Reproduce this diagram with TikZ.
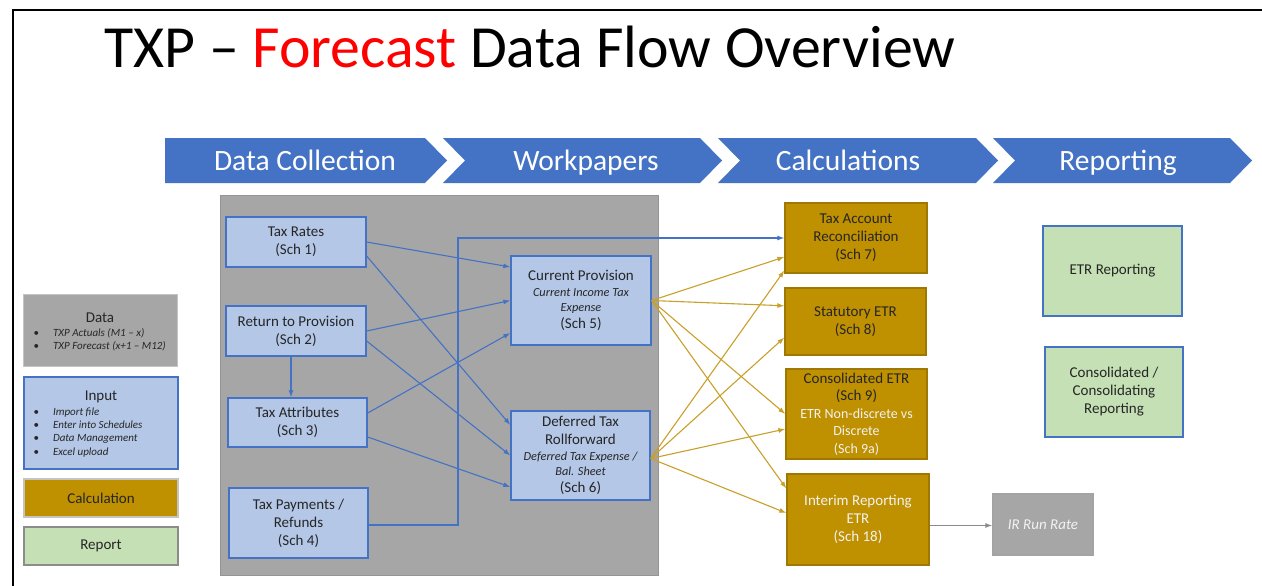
\documentclass[tikz,border=0pt]{standalone}
\usepackage{fontspec}
\setmainfont{Carlito}
\usetikzlibrary{arrows.meta,positioning,calc}

\definecolor{chevblue}{HTML}{4472C4}
\definecolor{inblue}{HTML}{B4C7E7}
\definecolor{inedge}{HTML}{4472C4}
\definecolor{calcgold}{HTML}{BF9000}
\definecolor{calcedge}{HTML}{9E7800}
\definecolor{feedgold}{HTML}{C9A02A}
\definecolor{repgreen}{HTML}{C5E0B4}
\definecolor{panelgray}{HTML}{A6A6A6}
\definecolor{paneledge}{HTML}{949494}
\definecolor{legedge}{HTML}{C4C4C4}
\definecolor{txt}{HTML}{262626}
\definecolor{paletxt}{HTML}{F2F2F2}
\definecolor{rungray}{HTML}{8C8C8C}

\newcommand{\titletxt}{\fontsize{59.8}{64}\selectfont}
\newcommand{\phasetxt}{\fontsize{29.5}{32}\selectfont}
\newcommand{\boxtxt}{\fontsize{15}{18}\selectfont}
\newcommand{\subtxt}{\fontsize{12.3}{15}\selectfont\itshape}
\newcommand{\itemtxt}{\fontsize{11}{13.3}\selectfont}
\newcommand{\pale}[1]{{\color{paletxt}\fontsize{14}{17}\selectfont #1}}

\begin{document}
\begin{tikzpicture}[x=1pt,y=-1pt,>={Latex[length=7pt,width=5pt]},line width=1.1pt,
  inbox/.style={draw=inedge,fill=inblue,line width=1.3pt,align=center,inner sep=0pt,font=\boxtxt,text=txt},
  calcbox/.style={draw=calcedge,fill=calcgold,line width=1.3pt,align=center,inner sep=0pt,font=\boxtxt,text=txt},
  repbox/.style={draw=inedge,fill=repgreen,line width=1.3pt,align=center,inner sep=0pt,font=\boxtxt,text=txt},
  phase/.style={anchor=base,text=white,font=\phasetxt,inner sep=0pt},
  flow/.style={->,draw=chevblue},
  feed/.style={->,draw=feedgold}]
\useasboundingbox (0,0) rectangle (1262,586);
\fill[white] (0,0) rectangle (1262,586);
% slide frame
\draw[line width=2pt] (13,586) -- (13,10) -- (1262,10);
\node[anchor=base west,font=\titletxt,inner sep=0pt] (title) at (104,67) {TXP – \textcolor{red}{Forecast} Data Flow Overview};

% phase chevrons
\fill[chevblue] (165,138) -- (425,138) -- (447,160.5) -- (425,183) -- (165,183) -- cycle;
\fill[chevblue] (443,138) -- (700,138) -- (722,160.5) -- (700,183) -- (443,183) -- (465,160.5) -- cycle;
\fill[chevblue] (718,138) -- (976,138) -- (998,160.5) -- (976,183) -- (718,183) -- (740,160.5) -- cycle;
\fill[chevblue] (993,138) -- (1230,138) -- (1252,160.5) -- (1230,183) -- (993,183) -- (1015,160.5) -- cycle;
\node[phase] (collect) at (305,170) {Data Collection};
\node[phase] (workp) at (586,170) {Workpapers};
\node[phase] (calcs) at (848,170) {Calculations};
\node[phase] (report) at (1118,170) {Reporting};

% legend
\node[draw=legedge,fill=panelgray,line width=1pt,minimum width=154pt,minimum height=72pt] (legdata) at (100,330) {};
\node[font=\boxtxt,text=txt,inner sep=0pt] (datatitle) at (100,317.5) {Data};
\node[anchor=west,align=left,font=\itemtxt,text=txt,inner sep=0pt] (datalist) at (33,339.5)
  {\textbullet\hspace{14pt}\textit{TXP Actuals (M1 – x)}\\\textbullet\hspace{14pt}\textit{TXP Forecast (x+1 – M12)}};
\node[draw=inedge,fill=inblue,line width=1.3pt,minimum width=154pt,minimum height=92pt] (leginput) at (101,423) {};
\node[font=\boxtxt,text=txt,inner sep=0pt] (inputtitle) at (101,397) {Input};
\node[anchor=west,align=left,font=\itemtxt,text=txt,inner sep=0pt] (inputlist) at (33,432.3)
  {\textbullet\hspace{14pt}\textit{Import file}\\\textbullet\hspace{14pt}\textit{Enter into Schedules}\\
   \textbullet\hspace{14pt}\textit{Data Management}\\\textbullet\hspace{14pt}\textit{Excel upload}};
\node[calcbox,draw=legedge,minimum width=154pt,minimum height=38pt] (legcalc) at (101,498) {Calculation};
\node[repbox,draw=rungray,minimum width=154pt,minimum height=38pt] (legrep) at (101,546) {Report};

% workpaper panel
\filldraw[fill=panelgray,draw=paneledge,line width=1pt] (220,195) rectangle (658,575);
\node[inbox,minimum width=140pt,minimum height=50pt] (rates) at (296,242) {Tax Rates\\(Sch 1)};
\node[inbox,minimum width=140pt,minimum height=50pt] (rtp) at (296,331) {Return to Provision\\(Sch 2)};
\node[inbox,minimum width=139pt,minimum height=49pt] (attrib) at (297.5,422.5) {Tax Attributes\\(Sch 3)};
\node[inbox,minimum width=139pt,minimum height=70pt] (payments) at (298.5,523) {Tax Payments /\\Refunds\\(Sch 4)};
\node[inbox,minimum width=140pt,minimum height=89pt] (curprov) at (581,300.5)
  {Current Provision\\[-2pt]{\subtxt Current Income Tax}\\[-2.5pt]{\subtxt Expense}\\[-1pt](Sch 5)};
\node[inbox,minimum width=139pt,minimum height=89pt] (deferred) at (580.5,455.5)
  {Deferred Tax\\Rollforward\\[-2pt]{\subtxt Deferred Tax Expense /}\\[-2.5pt]{\subtxt Bal. Sheet}\\[-1pt](Sch 6)};

% calculations
\node[calcbox,minimum width=142pt,minimum height=70pt] (sch7) at (856,238) {Tax Account\\Reconciliation\\(Sch 7)};
\node[calcbox,minimum width=141pt,minimum height=67pt] (sch8) at (855.5,321.5) {Statutory ETR\\(Sch 8)};
\node[calcbox,minimum width=141pt,minimum height=90pt] (sch9) at (856.5,414)
  {Consolidated ETR\\[-0.5pt](Sch 9)\\[-0.5pt]\pale{ETR Non-discrete vs}\\[-0.5pt]\pale{Discrete}\\[-0.5pt]\pale{(Sch 9a)}};
\node[calcbox,text=paletxt,minimum width=142pt,minimum height=91pt] (sch18) at (858,519.5) {Interim Reporting\\ETR\\(Sch 18)};
\node[draw=rungray!80,fill=panelgray,line width=1.3pt,text=paletxt,font=\boxtxt\itshape,minimum width=100pt,minimum height=61pt] (runrate) at (1043,524.5) {IR Run Rate};

% reporting
\node[repbox,minimum width=139pt,minimum height=90pt] (etrrep) at (1112.5,271) {ETR Reporting};
\node[repbox,minimum width=138pt,minimum height=90pt] (consrep) at (1114,392) {Consolidated /\\Consolidating\\Reporting};

% blue flows
\draw[flow] (rates.east) -- ([yshift=33.5pt]curprov.west);
\draw[flow] ([yshift=-14pt]rates.east) -- ([yshift=30.5pt]deferred.west);
\draw[flow] (rtp.east) -- (curprov.west);
\draw[flow] ([yshift=-10pt]rtp.east) -- (deferred.west);
\draw[flow] ([xshift=-5pt]rtp.south) -- ([xshift=-5pt]rtp.south |- attrib.north);
\draw[flow] ([yshift=9.5pt]attrib.east) -- ([yshift=-32.5pt]curprov.west);
\draw[flow] ([yshift=-14.5pt]attrib.east) -- ([yshift=-31.5pt]deferred.west);
\coordinate (riser) at (458,238);
\draw[flow] ([yshift=-2pt]payments.east) -| (riser) -- (sch7.west);

% gold flows
\foreach \dy/\tgt in {-19/sch7,15.7/sch8,0/sch9,31/sch18}
  \draw[feed] (curprov.east) -- ([yshift=\dy pt]\tgt.west);
\foreach \dy/\tgt in {-32.5/sch7,-16/sch8,-15/sch9,6.5/sch18}
  \draw[feed] ([yshift=-3pt]deferred.east) -- ([yshift=\dy pt]\tgt.west);
\draw[->,draw=rungray] ([yshift=-6pt]sch18.east) -- ([yshift=-1pt]runrate.west);
\end{tikzpicture}
\end{document}
